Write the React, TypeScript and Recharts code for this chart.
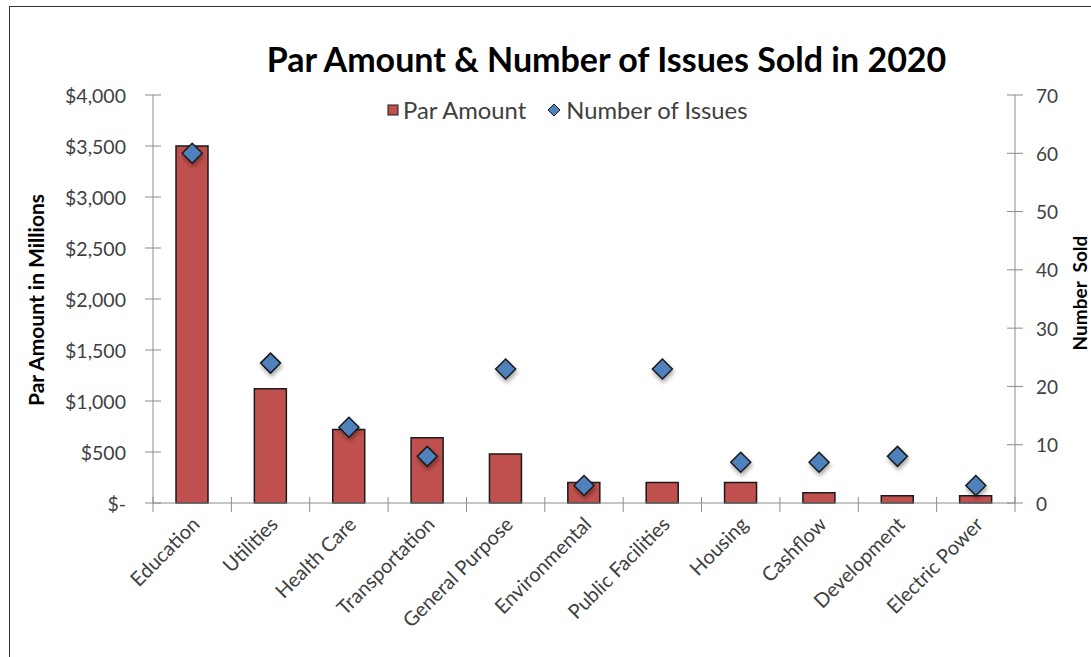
import React from 'react';
import {
  ComposedChart,
  Bar,
  Line,
  XAxis,
  YAxis,
  Legend,
  Label,
} from 'recharts';

const categories = [
  'Education',
  'Utilities',
  'Health Care',
  'Transportation',
  'General Purpose',
  'Environmental',
  'Public Facilities',
  'Housing',
  'Cashflow',
  'Development',
  'Electric Power',
];
const parAmount = [3500, 1120, 720, 640, 480, 200, 200, 200, 100, 70, 70];
const numberOfIssues = [60, 24, 13, 8, 23, 3, 23, 7, 7, 8, 3];
const leftTicks = [0, 500, 1000, 1500, 2000, 2500, 3000, 3500, 4000];
const rightTicks = [0, 10, 20, 30, 40, 50, 60, 70];

const data = categories.map((name, i) => ({
  name,
  par: parAmount[i],
  issues: numberOfIssues[i],
}));

const FONT = 'Lato, "Open Sans", sans-serif';
const AXIS = '#8c8c8c';
const TEXT = '#404040';
const RED = '#C0504D';
const BLUE = '#4F81BD';

const W = 1091;
const H = 657;
const LEFT_W = 153;
const RIGHT_W = 76;
const BAND = (W - LEFT_W - RIGHT_W) / categories.length;

const money = (v: number) => (v === 0 ? '$-' : '$' + v.toLocaleString('en-US'));

const LeftTick = (props: any) => {
  const { x, y, payload } = props;
  return (
    <g>
      <line x1={x - 8} x2={x + 8} y1={y} y2={y} stroke={AXIS} />
      <text x={x - 27} y={y} textAnchor="end" dominantBaseline="central" fill={TEXT} fontSize={19.5} fontFamily={FONT}>
        {money(payload.value)}
      </text>
    </g>
  );
};

const RightTick = (props: any) => {
  const { x, y, payload } = props;
  return (
    <g>
      <line x1={x - 8} x2={x + 8} y1={y} y2={y} stroke={AXIS} />
      <text x={x + 21} y={y} textAnchor="start" dominantBaseline="central" fill={TEXT} fontSize={19} fontFamily={FONT}>
        {payload.value}
      </text>
    </g>
  );
};

const BottomTick = (props: any) => {
  const { x, y, payload, index } = props;
  const last = index === categories.length - 1;
  const tx = x + 3;
  const ty = y + 17;
  return (
    <g>
      <line x1={x - BAND / 2} x2={x - BAND / 2} y1={y - 6} y2={y + 9} stroke={AXIS} />
      {last && <line x1={x + BAND / 2} x2={x + BAND / 2} y1={y - 6} y2={y + 9} stroke={AXIS} />}
      <text
        x={tx}
        y={ty}
        textAnchor="end"
        dominantBaseline="central"
        transform={`rotate(-45 ${tx} ${ty})`}
        fill={TEXT}
        fontSize={20}
        fontFamily={FONT}
      >
        {payload.value}
      </text>
    </g>
  );
};

const Diamond = (props: any) => {
  const { cx, cy } = props;
  if (cx == null || cy == null) return null;
  const r = 10;
  return (
    <path
      d={`M${cx},${cy - r} L${cx + r},${cy} L${cx},${cy + r} L${cx - r},${cy} Z`}
      fill={BLUE}
      stroke="#1a1a1a"
      strokeWidth={1.5}
      style={{ filter: 'drop-shadow(1px 3px 2px rgba(0,0,0,0.35))' }}
    />
  );
};

const LegendContent = () => (
  <div style={{ display: 'flex', alignItems: 'center', fontFamily: FONT, fontSize: 23.8, color: TEXT, whiteSpace: 'nowrap' }}>
    <svg width={12} height={12} style={{ marginRight: 4 }}>
      <rect x={1} y={1} width={10} height={10} fill={RED} stroke="#1a1a1a" />
    </svg>
    <span>Par Amount</span>
    <svg width={14} height={14} style={{ marginLeft: 21, marginRight: 5 }}>
      <path d="M7,1 L13,7 L7,13 L1,7 Z" fill={BLUE} stroke="#1a1a1a" />
    </svg>
    <span>Number of Issues</span>
  </div>
);

export default function App() {
  return (
    <div style={{ position: 'absolute', left: 0, top: 0, width: W, height: H, overflow: 'hidden', background: '#fff' }}>
      <div
        style={{
          position: 'absolute',
          left: 9,
          top: 6,
          width: W + 20,
          height: H + 20,
          border: '1.5px solid #333',
        }}
      />
      <div
        style={{
          position: 'absolute',
          left: 0,
          top: 38,
          width: W,
          paddingLeft: 122,
          boxSizing: 'border-box',
          textAlign: 'center',
          fontFamily: FONT,
          fontWeight: 700,
          fontSize: 34,
          color: '#000',
        }}
      >
        Par Amount &amp; Number of Issues Sold in 2020
      </div>
      <ComposedChart
        width={W}
        height={H}
        data={data}
        margin={{ top: 95, right: 0, bottom: 0, left: 0 }}
        style={{ position: 'absolute', left: 0, top: 0 }}
      >
        <XAxis
          dataKey="name"
          interval={0}
          height={H - 503}
          tickLine={false}
          tickSize={0}
          tickMargin={0}
          axisLine={{ stroke: AXIS }}
          tick={<BottomTick />}
        />
        <YAxis
          yAxisId="left"
          orientation="left"
          width={LEFT_W}
          domain={[0, 4000]}
          ticks={leftTicks}
          interval={0}
          tickLine={false}
          tickSize={0}
          tickMargin={0}
          axisLine={{ stroke: AXIS }}
          tick={<LeftTick />}
        >
          <Label
            content={() => (
              <text
                x={35}
                y={300}
                transform="rotate(-90 35 300)"
                textAnchor="middle"
                dominantBaseline="central"
                fontFamily={FONT}
                fontWeight={700}
                fontSize={21}
                fill="#000"
              >
                Par Amount in Millions
              </text>
            )}
          />
        </YAxis>
        <YAxis
          yAxisId="right"
          orientation="right"
          width={RIGHT_W}
          domain={[0, 70]}
          ticks={rightTicks}
          interval={0}
          tickLine={false}
          tickSize={0}
          tickMargin={0}
          axisLine={{ stroke: AXIS }}
          tick={<RightTick />}
        >
          <Label
            content={() => (
              <text
                x={1079}
                y={293}
                transform="rotate(-90 1079 293)"
                textAnchor="middle"
                dominantBaseline="central"
                fontFamily={FONT}
                fontWeight={700}
                fontSize={19}
                fill="#000"
              >
                {'Number\u00a0 Sold'}
              </text>
            )}
          />
        </YAxis>
        <Legend
          verticalAlign="middle"
          align="center"
          content={<LegendContent />}
          wrapperStyle={{ position: 'absolute', top: 96, left: 387, width: 'auto' }}
        />
        <Bar
          yAxisId="left"
          dataKey="par"
          name="Par Amount"
          fill={RED}
          stroke="#1a1a1a"
          strokeWidth={1.5}
          barSize={32}
          isAnimationActive={false}
        />
        <Line
          yAxisId="right"
          dataKey="issues"
          name="Number of Issues"
          stroke="none"
          dot={<Diamond />}
          activeDot={false}
          isAnimationActive={false}
        />
      </ComposedChart>
    </div>
  );
}
